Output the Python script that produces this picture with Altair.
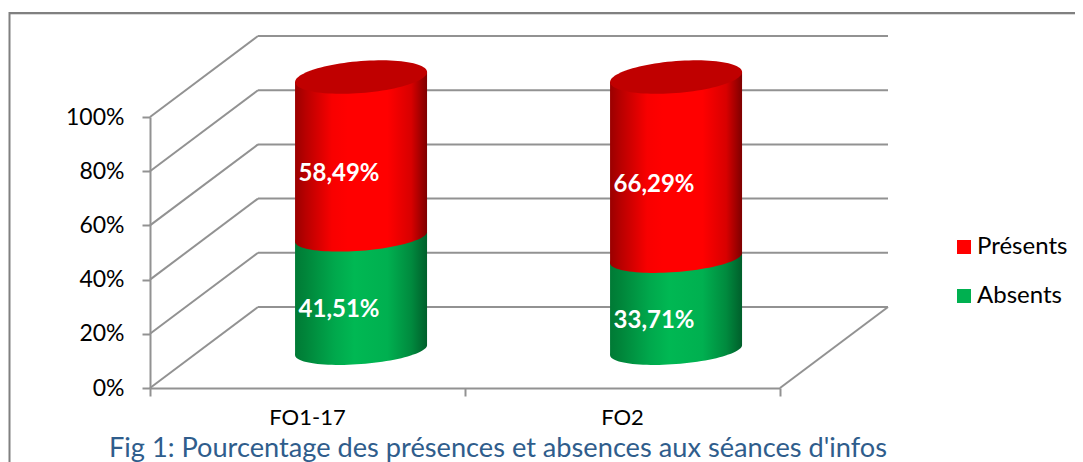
import numpy as np
import pandas as pd
import altair as alt

categories = ["FO1-17", "FO2"]
absents = [41.51, 33.71]
presents = [58.49, 66.29]
absents_txt = ["41,51%", "33,71%"]
presents_txt = ["58,49%", "66,29%"]
grid_values = [0, 20, 40, 60, 80, 100]
legend_names = ["Présents", "Absents"]
legend_colors = ["#FF0000", "#00B050"]

FONT = "Lato"
GRAY = "#929292"
PW, PH = 630, 271                # plot area
UX, UY = PW / 2, PH / 100        # px per data unit
DEPTH_X, DEPTH_Y = 108 / UX, 81 / UY
CENTERS = [0.67, 1.67]
HALF = 66 / UX
TILT = 5 / UY
BASE = 14.0
K = 273 / 271

xs = alt.Scale(domain=[0, 2], nice=False, zero=False)
ys = alt.Scale(domain=[0, 100], nice=False, zero=False)
AX = alt.Axis(values=[0, 1, 2], labels=False, title=None, grid=False,
              domainColor=GRAY, domainWidth=2, tickColor=GRAY, tickWidth=2, tickSize=8)
AY = alt.Axis(values=grid_values, labelExpr="datum.value + '%'", title=None,
              grid=False, domainColor=GRAY, domainWidth=2, tickColor=GRAY,
              tickWidth=2, tickSize=8, labelFont=FONT, labelFontSize=23,
              labelColor="#000000", labelPadding=18)
def X(f, **k): return alt.X(f, type="quantitative", scale=xs, axis=AX, **k)
def Y(f, **k): return alt.Y(f, type="quantitative", scale=ys, axis=AY, **k)

def grad(stops):
    return alt.Gradient(gradient="linear", x1=0, x2=1, y1=0, y2=0,
                        stops=[alt.GradientStop(offset=o, color=c) for o, c in stops])

RED = grad([(0, "#9A0000"), (0.08, "#B80000"), (0.28, "#F80000"), (0.4, "#FF0000"),
            (0.7, "#FF0000"), (0.88, "#D80000"), (1, "#7E0000")])
GREEN = grad([(0, "#007A35"), (0.08, "#00853A"), (0.3, "#00A84C"), (0.45, "#00B853"),
              (0.7, "#00B050"), (0.88, "#008A3E"), (1, "#005F2B")])

def ellipse_path(ry):
    t = np.linspace(0, 2 * np.pi, 97)[:-1]
    ex = np.cos(t)
    ey = -(5 / 66) * np.cos(t) - (ry / 66) * np.sin(t)
    return "M" + " L".join(f"{a:.4f},{b:.4f}" for a, b in zip(ex, ey)) + " Z"

ELLIPSE_TOP = ellipse_path(16)
ELLIPSE_LOW = ellipse_path(14)
ESIZE = 132 ** 2

rows = []
for c, a, p in zip(CENTERS, absents, presents):
    seam = BASE + a * K
    top = seam + p * K
    rows.append(dict(c=c, bot=BASE, seam=seam, top=top))
cyl = pd.DataFrame(rows)
cyl["lab_a"] = absents_txt
cyl["lab_p"] = presents_txt
cyl["mid_a"] = (cyl.bot + cyl.seam) / 2
cyl["mid_p"] = (cyl.seam + cyl.top) / 2

def body(lo, hi):
    out = []
    for i, r in cyl.iterrows():
        out.append(dict(g=i, x=r.c - HALF, y=r[hi] - TILT, y2=r[lo] - TILT))
        out.append(dict(g=i, x=r.c + HALF, y=r[hi] + TILT, y2=r[lo] + TILT))
    return pd.DataFrame(out)

lines = []
for v in grid_values:
    lines.append(dict(x=0, x2=DEPTH_X, y=v, y2=v + DEPTH_Y))
    lines.append(dict(x=DEPTH_X, x2=2 + DEPTH_X, y=v + DEPTH_Y, y2=v + DEPTH_Y))
lines.append(dict(x=2, x2=2 + DEPTH_X, y=0, y2=DEPTH_Y))
lines = pd.DataFrame(lines)

grid = alt.Chart(lines).mark_rule(color=GRAY, strokeWidth=2).encode(
    x=X("x"), x2="x2", y=Y("y"), y2="y2")

def ell(col, fill, shape):
    return alt.Chart(cyl).mark_point(shape=shape, size=ESIZE, filled=True, fill=fill,
                                     opacity=1, strokeWidth=0).encode(x=X("c"), y=Y(col))

def area(lo, hi, fill):
    return alt.Chart(body(lo, hi)).mark_area(fill=fill, opacity=1).encode(
        x=X("x"), y=Y("y"), y2="y2", detail="g:N")

def lab(col, mid):
    return alt.Chart(cyl).mark_text(font=FONT, fontSize=24, fontWeight="bold", color="#FFFFFF",
                                    dx=-22, dy=17).encode(x=X("c"), y=Y(mid), text=f"{col}:N")

cat_df = pd.DataFrame({"cat": categories, "x": [0.5, 1.5], "y": [0, 0]})
cats = alt.Chart(cat_df).mark_text(font=FONT, fontSize=22, color="#000000", dy=30).encode(
    x=X("x"), y=Y("y"), text="cat:N")

legend_df = pd.DataFrame({"name": legend_names, "x": [0, 0], "y": [0, 0]})
legend = alt.Chart(legend_df).mark_square(size=0, opacity=1).encode(
    x=X("x"), y=Y("y"),
    color=alt.Color("name:N", scale=alt.Scale(domain=legend_names, range=legend_colors), sort=legend_names,
                    legend=alt.Legend(orient="none", legendX=802, legendY=118, title=None,
                                      symbolType="square", symbolSize=196, symbolOpacity=1,
                                      symbolStrokeWidth=0,
                                      labelFont=FONT, labelFontSize=24, labelColor="#000000",
                                      labelOffset=1, rowPadding=25)))

frame_top = alt.Chart(pd.DataFrame({"a": [0]})).mark_rule(color="#808080", strokeWidth=2).encode(
    x=alt.value(-141), x2=alt.value(940), y=alt.value(-104))
frame_top2 = alt.Chart(pd.DataFrame({"a": [0]})).mark_rule(color="#DADADA", strokeWidth=1).encode(
    x=alt.value(-141), x2=alt.value(940), y=alt.value(-102.5))
frame_left = alt.Chart(pd.DataFrame({"a": [0]})).mark_rule(color="#808080", strokeWidth=2).encode(
    x=alt.value(-140.5), y=alt.value(-105), y2=alt.value(360))

chart = alt.layer(
    frame_top2, frame_top, frame_left, grid,
    ell("bot", GREEN, ELLIPSE_LOW), area("bot", "seam", GREEN),
    ell("seam", RED, ELLIPSE_LOW), area("seam", "top", RED),
    ell("top", "#C00000", ELLIPSE_TOP),
    lab("lab_a", "mid_a"), lab("lab_p", "mid_p"), cats, legend,
).properties(
    width=PW, height=PH,
    padding={"left": 142, "top": 109, "right": 295, "bottom": 74},
    autosize=alt.AutoSizeParams(type="none"),
    background="#FFFFFF",
    title=alt.TitleParams("Fig 1: Pourcentage des présences et absences aux séances d'infos",
                          orient="bottom", anchor="middle", dx=33, offset=8, dy=-50,
                          font=FONT, fontSize=27.2, fontWeight="normal", color="#2F5D8C"),
).configure_view(stroke=None)

chart.save("out.html", embed_options={"renderer": "svg", "actions": False})
